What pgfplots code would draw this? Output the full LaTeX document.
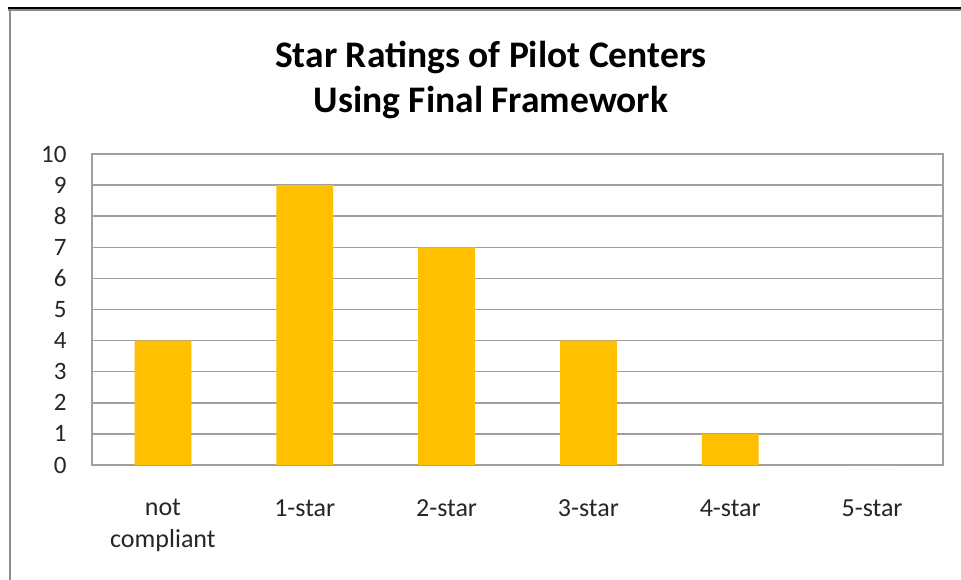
\documentclass[border=0pt]{standalone}
\usepackage{pgfplots}
\pgfplotsset{compat=1.18}
\usepackage{fontspec}
\setmainfont{Carlito}
\definecolor{bargold}{HTML}{FFC000}
\definecolor{gridgray}{HTML}{A0A0A0}
\definecolor{framegray}{HTML}{8C8C8C}
\definecolor{txt}{HTML}{262626}
\begin{document}
\begin{tikzpicture}[x=1pt,y=1pt]
\path[use as bounding box] (0,0) rectangle (961,-580);
\fill[white] (0,0) rectangle (961,-580);
\draw[black,line width=2.4pt] (8,-7.8) -- (961,-7.8);
\draw[framegray,line width=2pt] (8,-10) -- (961,-10);
\draw[framegray,line width=2.6pt] (10,-9) -- (10,-580);
\node[align=center,font=\fontsize{37.5}{44.5}\selectfont\bfseries,text=black] at (491,-80) {Star Ratings of Pilot Centers\\Using Final Framework};
\begin{axis}[
  at={(92pt,-465pt)}, anchor=south west,
  scale only axis, width=851pt, height=311pt,
  xmin=-0.5, xmax=5.5, ymin=0, ymax=10,
  xtick={0,1,2,3,4,5},
  xticklabels={{not\\compliant},1-star,2-star,3-star,4-star,5-star},
  xticklabel style={align=center,font=\fontsize{26}{32}\selectfont,text=txt,anchor=north,yshift=-31pt},
  ytick={0,1,2,3,4,5,6,7,8,9,10},
  yticklabel style={font=\fontsize{25}{28}\selectfont,text=txt,xshift=-22pt},
  /pgf/number format/assume math mode=true,
  major tick length=0pt,
  ymajorgrids, grid style={gridgray,line width=1.5pt},
  axis line style={gridgray,line width=1.5pt},
  axis on top=false,
]
\addplot[ybar,bar width=0.4,fill=bargold,draw=none] coordinates {(0,4) (1,9) (2,7) (3,4) (4,1) (5,0)};
\end{axis}
\end{tikzpicture}
\end{document}
